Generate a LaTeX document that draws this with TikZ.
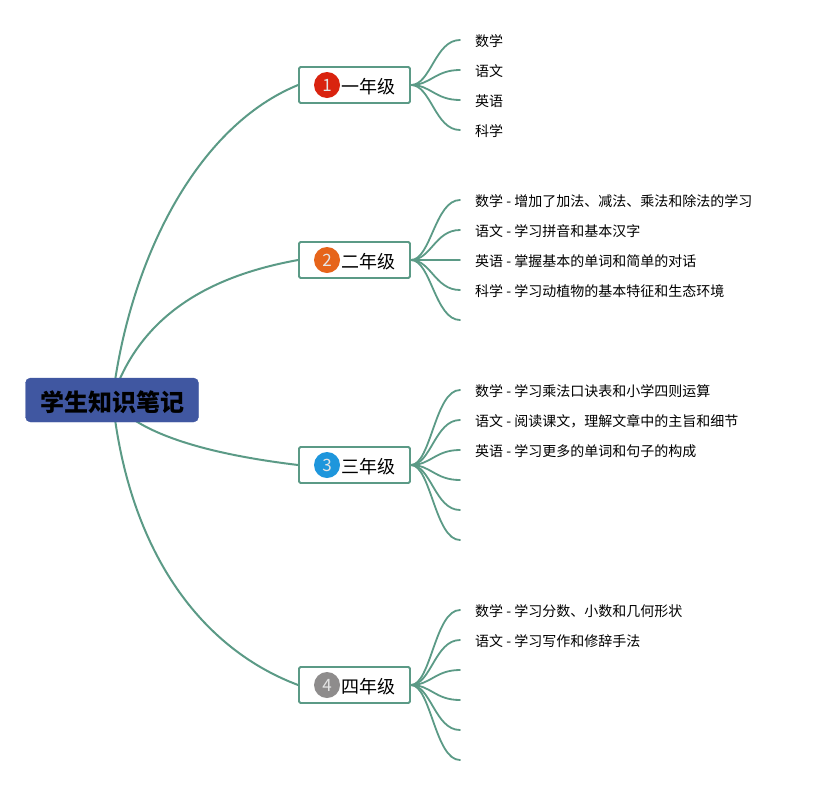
\documentclass[tikz,border=0pt]{standalone}
\usepackage{fontspec}
\setmainfont{Noto Sans CJK SC}
\usetikzlibrary{backgrounds}
\definecolor{linkc}{HTML}{5B9A86}
\definecolor{rootc}{HTML}{4057A1}
\definecolor{badgea}{HTML}{D9230F}
\definecolor{badgeb}{HTML}{E6641A}
\definecolor{badgec}{HTML}{1E96DC}
\definecolor{badged}{HTML}{8E8C8C}
\tikzset{
  x=1pt,y=-1pt,
  rootbox/.style={draw=rootc,fill=rootc,rounded corners=5pt,minimum width=173pt,minimum height=44pt,inner sep=0pt,font=\fontsize{24}{28}\selectfont\bfseries,text=black,text height=24pt,text depth=2pt},
  gradebox/.style={draw=linkc,line width=1.8pt,fill=white,rounded corners=1.5pt,minimum width=111pt,minimum height=36pt,inner sep=0pt},
  gradelabel/.style={inner sep=0pt,font=\fontsize{18}{22}\selectfont,text=black,anchor=west},
  badge/.style={circle,minimum size=26pt,inner sep=0pt,text=white!90!black,font=\fontsize{17}{17}\selectfont},
  leaf/.style={anchor=west,inner ysep=0pt,inner xsep=15pt,font=\fontsize{14}{16}\selectfont,text=black,text height=13pt,text depth=1pt},
  link/.style={draw=linkc,line width=2pt,line cap=round},
  twig/.style={draw=linkc,line width=1.8pt,line cap=round}
}
\newcommand{\twigs}[2]{%
  \foreach \i/\y/\t in {#2} {
    \ifx\t\empty
      \coordinate (#1-\i) at (460,\y);
    \else
      \node[leaf] (#1-\i) at (460,\y) {\t};
    \fi
    \begin{scope}[on background layer]
      \draw[twig] (#1.east) .. controls ++(20,0) and (435,\y) .. (#1-\i.west);
    \end{scope}
  }%
}
\begin{document}
\begin{tikzpicture}
\useasboundingbox (0,0) rectangle (813,785);
\node[rootbox] (root) at (112,400) {学生知识笔记};
\node[gradebox] (g1) at (354.5,85) {};
\node[gradebox] (g2) at (354.5,260) {};
\node[gradebox] (g3) at (354.5,465) {};
\node[gradebox] (g4) at (354.5,685) {};
\node[badge,fill=badgea] (b1) at (327,85) {1};
\node[badge,fill=badgeb] (b2) at (327,260) {2};
\node[badge,fill=badgec] (b3) at (327,465) {3};
\node[badge,fill=badged] (b4) at (327,685) {4};
\node[gradelabel] (t1) at (341,86.5) {一年级};
\node[gradelabel] (t2) at (341,261.5) {二年级};
\node[gradelabel] (t3) at (341,466.5) {三年级};
\node[gradelabel] (t4) at (341,686.5) {四年级};
\begin{scope}[on background layer]
\draw[link] ([xshift=3pt,yshift=-3pt]root.north) .. controls (135,250) and (200,125) .. (g1.west);
\draw[link] ([xshift=7pt,yshift=-3pt]root.north) .. controls (150,310) and (215,275) .. (g2.west);
\draw[link] ([xshift=21pt,yshift=3pt]root.south) .. controls (172,445) and (240,458) .. (g3.west);
\draw[link] ([xshift=3pt,yshift=3pt]root.south) .. controls (135,560) and (205,650) .. (g4.west);
\end{scope}
\twigs{g1}{a/40/数学,b/70/语文,c/100/英语,d/130/科学}
\twigs{g2}{a/200/数学 - 增加了加法、减法、乘法和除法的学习,b/230/语文 - 学习拼音和基本汉字,c/260/英语 - 掌握基本的单词和简单的对话,d/290/科学 - 学习动植物的基本特征和生态环境,e/320/}
\twigs{g3}{a/390/数学 - 学习乘法口诀表和小学四则运算,b/420/语文 - 阅读课文，理解文章中的主旨和细节,c/450/英语 - 学习更多的单词和句子的构成,d/480/,e/510/,f/540/}
\twigs{g4}{a/610/数学 - 学习分数、小数和几何形状,b/640/语文 - 学习写作和修辞手法,c/670/,d/700/,e/730/,f/760/}
\end{tikzpicture}
\end{document}
